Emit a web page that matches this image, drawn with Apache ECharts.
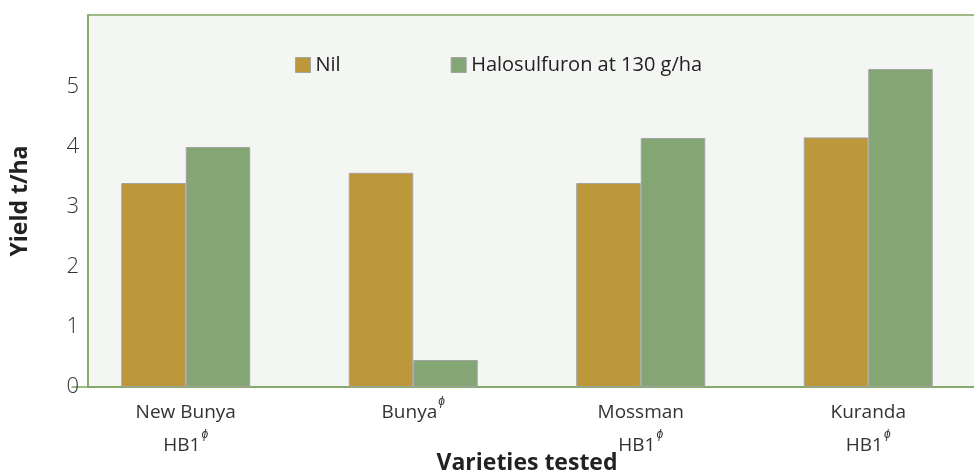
<!DOCTYPE html>
<html lang="en">
  <head>
    <meta charset="UTF-8" />
    <title>Yield by variety</title>
    <style>
      html, body { margin: 0; padding: 0; background: #fff; }
      #main { width: 974px; height: 475px; }
    </style>
  </head>
  <body>
    <div id="main"></div>
    <script src="https://cdn.jsdelivr.net/npm/echarts@6/dist/echarts.min.js"></script>
    <script>
      const varieties = ["New Bunya|HB1", "Bunya|", "Mossman|HB1", "Kuranda|HB1"];
      const nilYield = [3.4, 3.57, 3.4, 4.16];
      const haloYield = [4.0, 0.45, 4.15, 5.3];
      const seriesNames = ["Nil", "Halosulfuron at 130 g/ha"];

      const font = "'Open Sans', 'Liberation Sans', sans-serif";
      const myChart = echarts.init(document.getElementById("main"));

      myChart.setOption({
        animation: false,
        textStyle: { fontFamily: font },
        graphic: [
          {
            type: "rect",
            z: -1,
            shape: { x: 88, y: 15, width: 900, height: 372 },
            style: { fill: "#f4f6f3", stroke: "#7fa563", lineWidth: 1.5 },
          },
        ],
        legend: {
          top: 50,
          left: 290,
          icon: "rect",
          itemWidth: 15,
          itemHeight: 15,
          itemGap: 110,
          itemStyle: { borderColor: "#a3a3a3", borderWidth: 1 },
          textStyle: { fontSize: 20, color: "#222", fontFamily: font },
          data: seriesNames,
        },
        grid: { left: 72, top: 15, bottom: 88, width: 910, outerBoundsMode: "none", containLabel: false },
        xAxis: {
          type: "category",
          data: varieties,
          axisTick: { show: false },
          axisLine: { lineStyle: { color: "#7fa563", width: 1.5 } },
          axisLabel: {
            margin: 9,
            formatter: (v) => {
              const [a, b] = v.split("|");
              return b ? `{t|${a}}\n{t|${b}}{s|ɸ}` : `{t|${a}}{s|ɸ}`;
            },
            rich: {
              t: { fontSize: 19, lineHeight: 33, color: "#333", fontFamily: font },
              s: { fontSize: 12, lineHeight: 28, color: "#333", fontStyle: "italic", verticalAlign: "top", padding: [0, 0, 0, 1], fontFamily: font },
            },
          },
          name: "Varieties tested",
          nameLocation: "middle",
          nameGap: 65,
          nameMoveOverlap: false,
          nameTextStyle: { fontSize: 23, fontWeight: "bold", color: "#222", fontFamily: font },
        },
        yAxis: {
          type: "value",
          min: 0,
          max: 6.2,
          interval: 1,
          offset: -16,
          splitLine: { show: false },
          axisTick: { show: false },
          axisLine: { show: true, lineStyle: { color: "#7fa563", width: 1.5 } },
          axisLabel: {
            margin: 9,
            fontSize: 22,
            fontWeight: 300,
            color: "#333",
            formatter: (v) => (v <= 5 ? String(v) : ""),
          },
          name: "Yield t/ha",
          nameLocation: "middle",
          nameGap: 56,
          nameMoveOverlap: false,
          nameTextStyle: { fontSize: 23, fontWeight: "bold", color: "#222", fontFamily: font },
        },
        series: [
          {
            name: seriesNames[0],
            type: "bar",
            data: nilYield,
            barGap: "0%",
            barCategoryGap: "43.3%",
            itemStyle: { color: "#bd983a", borderColor: "#a3a3a3", borderWidth: 1 },
          },
          {
            name: seriesNames[1],
            type: "bar",
            data: haloYield,
            itemStyle: { color: "#84a674", borderColor: "#a3a3a3", borderWidth: 1 },
          },
        ],
      });
    </script>
  </body>
</html>
